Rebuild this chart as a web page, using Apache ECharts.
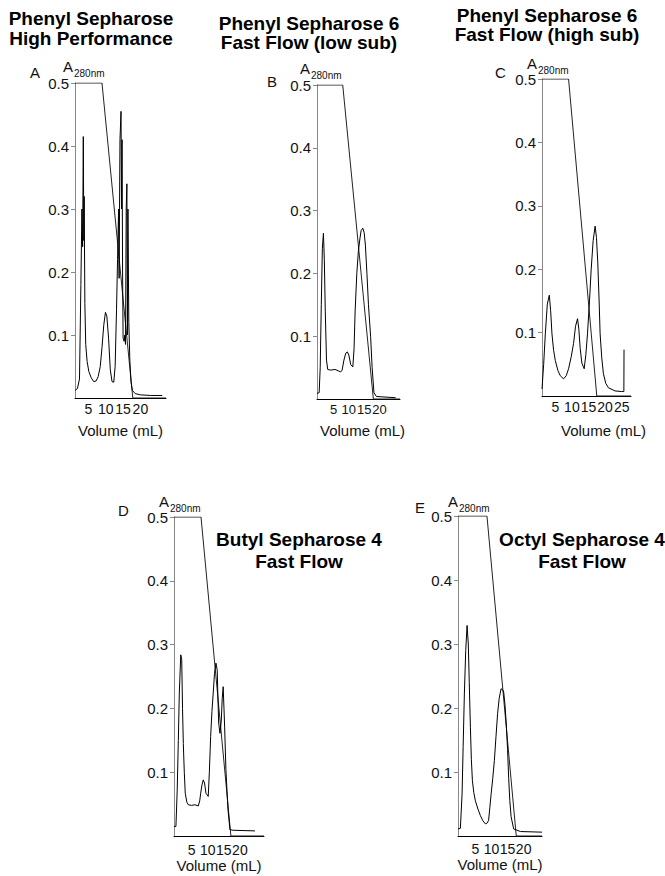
<!DOCTYPE html>
<html>
<head>
<meta charset="utf-8">
<script src="https://cdn.jsdelivr.net/npm/echarts@6/dist/echarts.min.js"></script>
<style>
  html, body { margin: 0; padding: 0; background: #fff; }
  #chart { width: 665px; height: 876px; }
</style>
</head>
<body>
<div id="chart"></div>
<script>
// ---- data: [volume mL, A280] ----
const traceA = [[1.1,0.012],[1.8,0.015],[2.4,0.03],[2.8,0.18],[3.1,0.3],[3.3,0.24],[3.5,0.415],[3.65,0.25],[3.75,0.32],[3.95,0.15],[4.2,0.085],[4.6,0.058],[5.1,0.042],[5.8,0.032],[6.5,0.026],[7.2,0.027],[7.8,0.034],[8.4,0.05],[8.9,0.08],[9.4,0.115],[9.9,0.136],[10.3,0.13],[10.8,0.095],[11.3,0.045],[11.8,0.026],[12.3,0.025],[12.7,0.05],[13.1,0.14],[13.4,0.22],[13.7,0.3],[13.85,0.19],[14.1,0.41],[14.4,0.455],[14.55,0.3],[14.7,0.41],[14.85,0.2],[15.0,0.095],[15.3,0.09],[15.5,0.1],[15.7,0.085],[15.9,0.3],[16.1,0.34],[16.25,0.1],[16.4,0.3],[16.65,0.12],[16.95,0.06],[17.3,0.025],[17.7,0.012],[18.5,0.007],[20,0.005],[23,0.004],[26.3,0.004]];
const gradA = [[1.1,0.5],[8.9,0.5],[17.8,0],[27.4,0]];

const traceB = [[-0.4,0.009],[0.3,0.01],[0.65,0.05],[1.0,0.15],[1.35,0.24],[1.7,0.264],[2.0,0.22],[2.3,0.14],[2.7,0.062],[3.1,0.047],[4.0,0.046],[5.5,0.047],[6.5,0.045],[7.3,0.043],[7.8,0.046],[8.4,0.062],[9.0,0.073],[9.5,0.075],[10.0,0.07],[10.6,0.055],[11.3,0.051],[11.7,0.08],[12.05,0.14],[12.6,0.2],[13.1,0.235],[13.6,0.255],[14.0,0.268],[14.55,0.272],[15.0,0.265],[15.4,0.245],[15.9,0.2],[16.4,0.15],[17.1,0.1],[17.6,0.05],[18.2,0.01],[19,0.004],[25.3,0.002]];
const gradB = [[-0.4,0.5],[8.0,0.5],[18.0,0],[26.7,0]];

const traceC = [[1.0,0.011],[1.5,0.05],[2.0,0.098],[2.6,0.145],[3.2,0.159],[3.6,0.135],[4.0,0.098],[4.5,0.072],[5.0,0.056],[5.8,0.04],[6.5,0.032],[7.5,0.027],[8.3,0.032],[9.0,0.043],[9.8,0.062],[10.5,0.083],[11.1,0.11],[11.7,0.122],[12.1,0.105],[12.5,0.075],[13.0,0.052],[13.7,0.043],[14.2,0.065],[14.7,0.098],[15.3,0.15],[15.8,0.199],[16.4,0.245],[17.0,0.268],[17.4,0.25],[17.8,0.21],[18.2,0.15],[18.5,0.098],[19.0,0.06],[19.5,0.035],[20.2,0.02],[21.0,0.013],[23.0,0.008],[25.0,0.007],[25.65,0.007],[25.7,0.073]];
const gradC = [[1.0,0.5],[9.0,0.5],[17.5,0],[27.8,0]];

const traceD = [[-0.5,0.015],[0.1,0.015],[0.5,0.072],[0.85,0.15],[1.15,0.224],[1.6,0.284],[1.9,0.277],[2.15,0.2],[2.4,0.145],[2.7,0.1],[3.0,0.067],[3.5,0.053],[3.95,0.049],[5.0,0.048],[6.0,0.049],[7.05,0.047],[7.5,0.055],[7.8,0.067],[8.2,0.08],[8.6,0.088],[9.0,0.083],[9.45,0.067],[10.15,0.062],[10.5,0.1],[10.9,0.156],[11.3,0.195],[11.7,0.224],[12.1,0.255],[12.55,0.271],[12.95,0.26],[13.2,0.21],[13.4,0.177],[13.8,0.161],[14.2,0.18],[14.5,0.215],[14.8,0.234],[15.05,0.2],[15.25,0.171],[15.65,0.104],[16.0,0.07],[16.3,0.041],[16.9,0.01],[17.9,0.009],[24.7,0.008]];
const gradD = [[-0.5,0.5],[7.9,0.5],[17.2,0],[27.5,0]];

const traceE = [[-0.4,0.011],[0.34,0.012],[0.87,0.066],[1.2,0.14],[1.58,0.222],[2.0,0.29],[2.42,0.329],[2.8,0.3],[3.1,0.24],[3.45,0.17],[3.75,0.12],[4.07,0.087],[4.5,0.068],[5.0,0.055],[5.8,0.042],[6.55,0.032],[7.3,0.024],[8.1,0.019],[8.6,0.02],[9.1,0.024],[9.5,0.045],[9.9,0.066],[10.4,0.09],[10.9,0.118],[11.4,0.155],[11.9,0.191],[12.4,0.215],[12.98,0.23],[13.4,0.229],[13.8,0.225],[14.2,0.205],[14.6,0.175],[15.0,0.135],[15.35,0.09],[15.7,0.055],[16.1,0.03],[16.9,0.011],[19.0,0.007],[25.7,0.006]];
const gradE = [[-0.4,0.5],[8.6,0.5],[17.7,0],[25.7,0]];

const yTicks = [0.1, 0.2, 0.3, 0.4, 0.5];
const xTicks = [5, 10, 15, 20];
const xTicksC = [5, 10, 15, 20, 25];

const titles = [
  'Phenyl Sepharose\nHigh Performance',
  'Phenyl Sepharose 6\nFast Flow (low sub)',
  'Phenyl Sepharose 6\nFast Flow (high sub)',
  'Butyl Sepharose 4\nFast Flow',
  'Octyl Sepharose 4\nFast Flow'
];
const letters = ['A', 'B', 'C', 'D', 'E'];
const xName = 'Volume (mL)';

// ---- layout ----
const FONT = '"Liberation Sans", Arial, Helvetica, sans-serif';
const panels = [
  { trace: traceA, grad: gradA, xMin: 1.1, xMax: 27.4, ticks: xTicks, grid: { left: 75, top: 83, width: 91, height: 315 }, lblMargin: 4, lblSize: 14, nameGap: 25, namePad: 0,
    title: [91, 8, 20], letter: [30, 67], a280: [63, 61], sub: [74, 70] },
  { trace: traceB, grad: gradB, xMin: -0.4, xMax: 26.7, ticks: xTicks, grid: { left: 317, top: 85, width: 83, height: 314 }, lblMargin: 4, lblSize: 13, nameGap: 24, namePad: 8,
    title: [309, 14, 19], letter: [267, 76], a280: [300, 63], sub: [311, 72] },
  { trace: traceC, grad: gradC, xMin: 1.0, xMax: 27.8, ticks: xTicksC, grid: { left: 542, top: 79, width: 89, height: 317 }, lblMargin: 4, lblSize: 14, nameGap: 27, namePad: 34,
    title: [547, 6, 19], letter: [495, 67], a280: [527, 58], sub: [538, 67] },
  { trace: traceD, grad: gradD, xMin: -0.5, xMax: 27.5, ticks: xTicks, grid: { left: 174, top: 517, width: 90, height: 319 }, lblMargin: 7, lblSize: 14, nameGap: 21, namePad: 0,
    title: [299, 529, 21.5], letter: [118, 505], a280: [159, 496], sub: [170, 505] },
  { trace: traceE, grad: gradE, xMin: -0.4, xMax: 25.7, ticks: xTicks, grid: { left: 458, top: 516, width: 84, height: 320 }, lblMargin: 6, lblSize: 14, nameGap: 19, namePad: 0,
    title: [582, 529, 21.5], letter: [415, 502], a280: [448, 496], sub: [459, 505] }
];

const grid = [], xAxis = [], yAxis = [], series = [], graphic = [];
panels.forEach((p, i) => {
  grid.push(Object.assign({ outerBoundsMode: 'none', containLabel: false }, p.grid));
  xAxis.push({
    type: 'value', gridIndex: i, min: p.xMin, max: p.xMax,
    name: xName, nameLocation: 'middle', nameGap: p.nameGap,
    nameTextStyle: { fontFamily: FONT, fontSize: 15, color: '#111', padding: [0, 0, 0, p.namePad] },
    axisLine: { onZero: false, lineStyle: { color: '#000', width: 1 } },
    axisTick: { show: false },
    splitLine: { show: false },
    axisLabel: { customValues: p.ticks, showMinLabel: true, showMaxLabel: true, margin: p.lblMargin, hideOverlap: false,
      fontFamily: FONT, fontSize: p.lblSize, color: '#111' }
  });
  yAxis.push({
    type: 'value', gridIndex: i, min: 0, max: 0.5,
    axisLine: { onZero: false, lineStyle: { color: '#888', width: 1 } },
    axisTick: { show: true, customValues: yTicks, length: 4, lineStyle: { color: '#888' } },
    splitLine: { show: false },
    axisLabel: { customValues: yTicks, showMinLabel: true, showMaxLabel: true, margin: 6, hideOverlap: false,
      fontFamily: FONT, fontSize: 15, lineHeight: 9, color: '#111',
      formatter: v => v.toFixed(1) }
  });
  series.push({
    type: 'line', xAxisIndex: i, yAxisIndex: i, data: p.grad, showSymbol: false,
    lineStyle: { color: '#222', width: 1 }, silent: true
  });
  series.push({
    type: 'line', xAxisIndex: i, yAxisIndex: i, data: p.trace, showSymbol: false,
    lineStyle: { color: '#000', width: 1 }, silent: true
  });
  graphic.push({ type: 'text', x: p.title[0], y: p.title[1],
    style: { text: titles[i], font: 'bold 19px ' + FONT, fill: '#000', align: 'center', textAlign: 'center', verticalAlign: 'top', textVerticalAlign: 'top', lineHeight: p.title[2] } });
  graphic.push({ type: 'text', x: p.letter[0], y: p.letter[1],
    style: { text: letters[i], font: '15px ' + FONT, fill: '#111', verticalAlign: 'top', textVerticalAlign: 'top', lineHeight: 10 } });
  graphic.push({ type: 'text', x: p.a280[0], y: p.a280[1],
    style: { text: 'A', font: '15px ' + FONT, fill: '#111', verticalAlign: 'top', textVerticalAlign: 'top', lineHeight: 10 } });
  graphic.push({ type: 'text', x: p.sub[0], y: p.sub[1],
    style: { text: '280nm', font: '10px ' + FONT, fill: '#111', verticalAlign: 'top', textVerticalAlign: 'top', lineHeight: 7 } });
});

const chart = echarts.init(document.getElementById('chart'), null, { renderer: 'svg' });
chart.setOption({
  animation: false,
  backgroundColor: '#fff',
  textStyle: { fontFamily: FONT },
  grid, xAxis, yAxis, series, graphic
});
</script>
</body>
</html>
